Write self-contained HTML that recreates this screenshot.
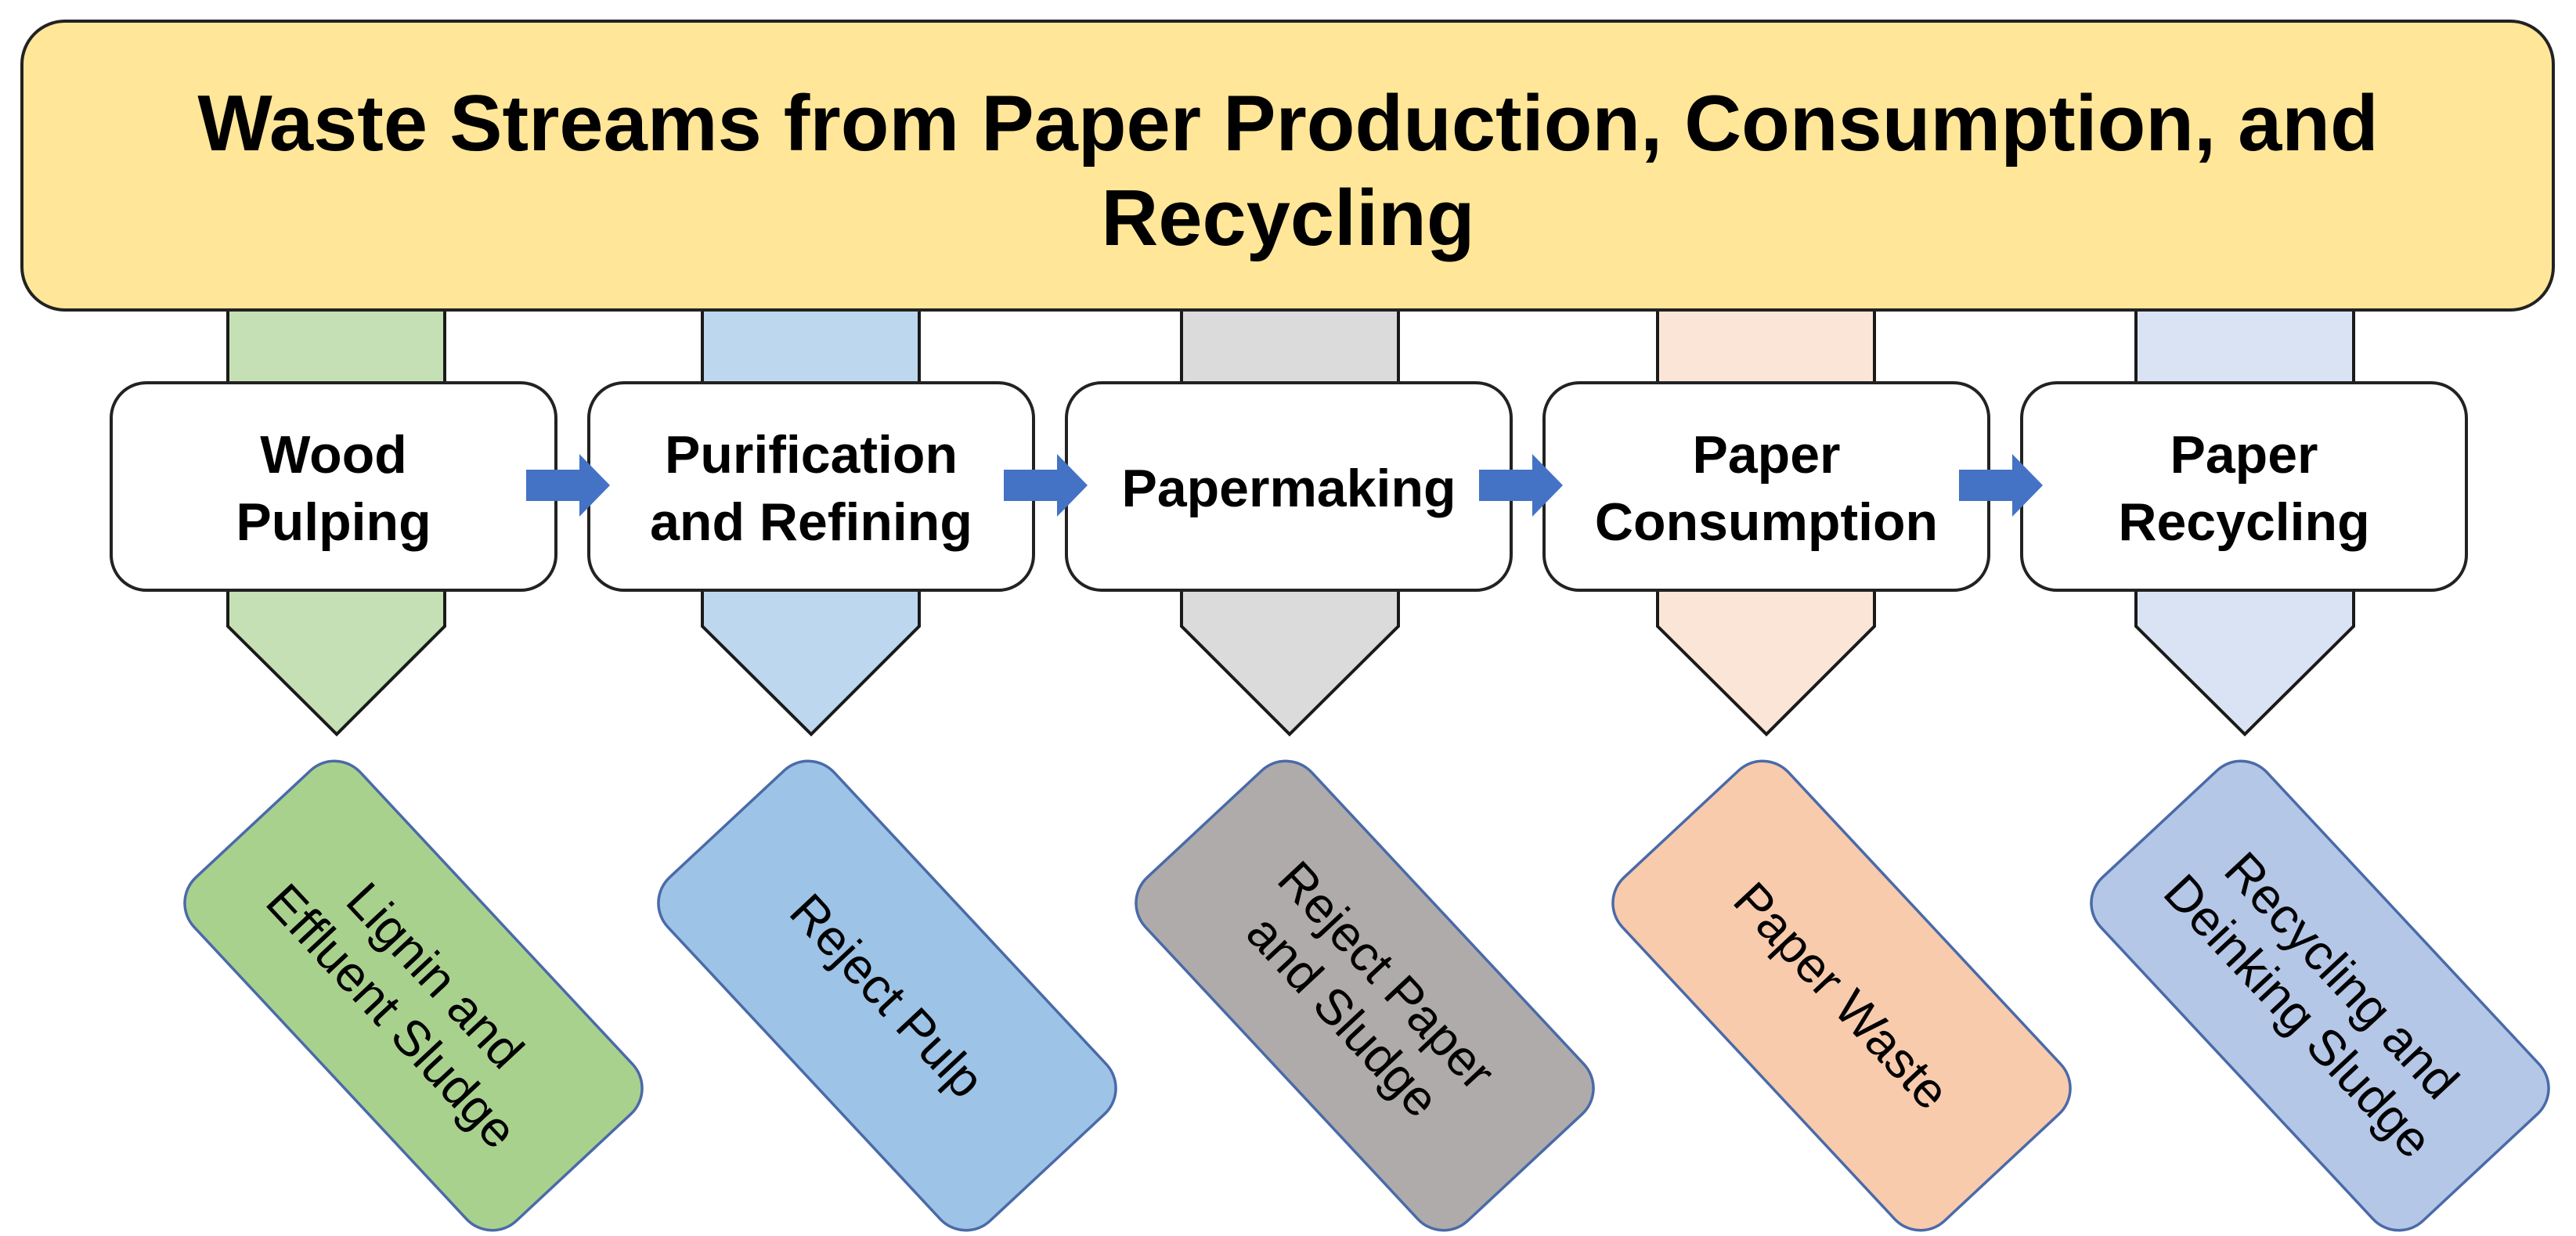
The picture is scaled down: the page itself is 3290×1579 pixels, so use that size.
<!DOCTYPE html>
<html><head><meta charset="utf-8"><style>html,body{margin:0;padding:0;background:#fff}svg{display:block}</style></head>
<body>
<svg width="3290" height="1579" viewBox="0 0 3290 1579" xmlns="http://www.w3.org/2000/svg" font-family="Liberation Sans, Arial, sans-serif">
<g stroke="#1a1a1a" stroke-width="4" stroke-linejoin="miter">
<polygon points="291,380 568,380 568,800 430,938 291,800" fill="#c5e0b4"/>
<polygon points="897,380 1174,380 1174,800 1036,938 897,800" fill="#bdd7ee"/>
<polygon points="1509,380 1786,380 1786,800 1647,938 1509,800" fill="#dbdbdb"/>
<polygon points="2117,380 2394,380 2394,800 2256,938 2117,800" fill="#fbe5d6"/>
<polygon points="2728,380 3006,380 3006,800 2867,938 2728,800" fill="#dae3f3"/>
</g>
<rect x="28" y="27" width="3233" height="369" rx="55" fill="#ffe699" stroke="#222" stroke-width="4"/>
<text x="1645" y="192" text-anchor="middle" font-size="101" font-weight="bold" fill="#000">Waste Streams from Paper Production, Consumption, and</text>
<text x="1645" y="313" text-anchor="middle" font-size="101" font-weight="bold" fill="#000">Recycling</text>
<g fill="#fff" stroke="#222" stroke-width="4">
<rect x="142" y="489" width="568" height="265" rx="45"/>
<rect x="752" y="489" width="568" height="265" rx="45"/>
<rect x="1362" y="489" width="568" height="265" rx="45"/>
<rect x="1972" y="489" width="568" height="265" rx="45"/>
<rect x="2582" y="489" width="568" height="265" rx="45"/>
</g>
<g font-size="68" font-weight="bold" text-anchor="middle" fill="#000">
<text x="426" y="604">Wood</text><text x="426" y="690">Pulping</text>
<text x="1036" y="604">Purification</text><text x="1036" y="690">and Refining</text>
<text x="1646" y="647">Papermaking</text>
<text x="2256" y="604">Paper</text><text x="2256" y="690">Consumption</text>
<text x="2866" y="604">Paper</text><text x="2866" y="690">Recycling</text>
</g>
<g fill="#4472c4">
<polygon points="672,600 740,600 740,580 779,620 740,660 740,640 672,640"/>
<polygon points="1282,600 1350,600 1350,580 1389,620 1350,660 1350,640 1282,640"/>
<polygon points="1889,600 1957,600 1957,580 1996,620 1957,660 1957,640 1889,640"/>
<polygon points="2502,600 2570,600 2570,580 2609,620 2570,660 2570,640 2502,640"/>
</g>
<g stroke="#4a6aa8" stroke-width="3.5" font-size="64" text-anchor="middle">
<g transform="rotate(47 528 1272)">
<rect x="228" y="1127" width="600" height="290" rx="45" fill="#a9d18e"/>
<text x="528" y="1256" stroke="none" fill="#000">Lignin and</text>
<text x="528" y="1332" stroke="none" fill="#000">Effluent Sludge</text>
</g>
<g transform="rotate(47 1133 1272)">
<rect x="833" y="1127" width="600" height="290" rx="45" fill="#9dc3e6"/>
<text x="1133" y="1294" stroke="none" fill="#000">Reject Pulp</text>
</g>
<g transform="rotate(47 1743 1272)">
<rect x="1443" y="1127" width="600" height="290" rx="45" fill="#afabab"/>
<text x="1743" y="1256" stroke="none" fill="#000">Reject Paper</text>
<text x="1743" y="1332" stroke="none" fill="#000">and Sludge</text>
</g>
<g transform="rotate(47 2352 1272)">
<rect x="2052" y="1127" width="600" height="290" rx="45" fill="#f8cbad"/>
<text x="2352" y="1294" stroke="none" fill="#000">Paper Waste</text>
</g>
<g transform="rotate(47 2963 1272)">
<rect x="2663" y="1127" width="600" height="290" rx="45" fill="#b4c7e7"/>
<text x="2963" y="1256" stroke="none" fill="#000">Recycling and</text>
<text x="2963" y="1332" stroke="none" fill="#000">Deinking Sludge</text>
</g>
</g>
</svg>
</body></html>
